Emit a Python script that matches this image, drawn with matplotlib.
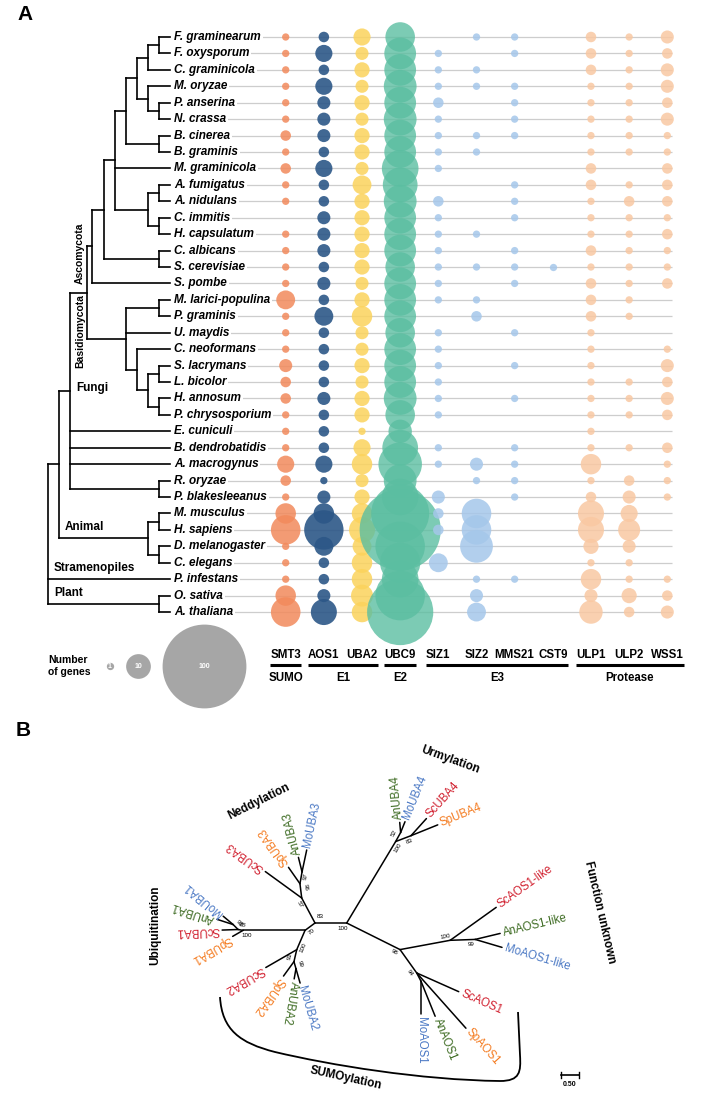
import numpy as np
import matplotlib.pyplot as plt
from matplotlib.path import Path
from matplotlib.patches import PathPatch

plt.rcParams['font.family'] = ['Liberation Sans', 'DejaVu Sans']

# ---------------- Panel A data ----------------
species = ["F. graminearum", "F. oxysporum", "C. graminicola", "M. oryzae", "P. anserina",
           "N. crassa", "B. cinerea", "B. graminis", "M. graminicola", "A. fumigatus",
           "A. nidulans", "C. immitis", "H. capsulatum", "C. albicans", "S. cerevisiae",
           "S. pombe", "M. larici-populina", "P. graminis", "U. maydis", "C. neoformans",
           "S. lacrymans", "L. bicolor", "H. annosum", "P. chrysosporium", "E. cuniculi",
           "B. dendrobatidis", "A. macrogynus", "R. oryzae", "P. blakesleeanus", "M. musculus",
           "H. sapiens", "D. melanogaster", "C. elegans", "P. infestans", "O. sativa",
           "A. thaliana"]

genes = ["SMT3", "AOS1", "UBA2", "UBC9", "SIZ1", "SIZ2", "MMS21", "CST9", "ULP1", "ULP2", "WSS1"]

# number of genes per species (same order as species)
smt3 = [1, 1, 1, 1, 1, 1, 2, 1, 2, 1, 1, 0, 1, 1, 1, 1, 6, 1, 1, 1,
        3, 2, 2, 1, 1, 1, 5, 2, 1, 7, 14, 1, 1, 1, 7, 14]
aos1 = [2, 5, 2, 5, 3, 3, 3, 2, 5, 2, 2, 3, 3, 3, 2, 3, 2, 6, 2, 2,
        2, 2, 3, 2, 2, 2, 5, 1, 3, 7, 24, 6, 2, 2, 3, 11]
uba2 = [5, 3, 4, 3, 4, 3, 4, 4, 3, 6, 4, 4, 4, 4, 4, 3, 4, 7, 3, 3,
        4, 3, 4, 4, 1, 5, 7, 3, 4, 7, 11, 6, 7, 7, 8, 7]
ubc9 = [14, 16, 16, 17, 16, 17, 16, 16, 21, 19, 17, 16, 16, 16, 14, 16, 16, 16, 14, 16,
        16, 16, 17, 14, 9, 20, 29, 17, 21, 50, 94, 37, 25, 21, 37, 64]
siz1 = [0, 1, 1, 1, 2, 1, 1, 1, 1, 0, 2, 1, 1, 1, 1, 1, 1, 0, 1, 1,
        1, 1, 1, 1, 0, 1, 1, 0, 3, 2, 2, 0, 6, 0, 0, 0]
siz2 = [1, 0, 1, 1, 0, 0, 1, 1, 0, 0, 0, 0, 1, 0, 1, 0, 1, 2, 0, 0,
        0, 0, 0, 0, 0, 0, 3, 1, 0, 14, 14, 17, 0, 1, 3, 6]
mms21 = [1, 1, 0, 1, 1, 1, 1, 0, 0, 1, 1, 1, 0, 1, 1, 1, 0, 0, 1, 0,
         1, 0, 1, 0, 0, 1, 1, 1, 1, 0, 0, 0, 0, 1, 0, 0]
cst9 = [0, 0, 0, 0, 0, 0, 0, 0, 0, 0, 0, 0, 0, 0, 1, 0, 0, 0, 0, 0,
        0, 0, 0, 0, 0, 0, 0, 0, 0, 0, 0, 0, 0, 0, 0, 0]
ulp1 = [2, 2, 2, 1, 1, 1, 1, 1, 2, 2, 1, 1, 1, 2, 1, 2, 2, 2, 1, 1,
        1, 1, 1, 1, 1, 1, 7, 1, 2, 11, 11, 4, 1, 7, 3, 9]
ulp2 = [1, 1, 1, 1, 1, 1, 1, 1, 0, 1, 2, 1, 1, 1, 1, 1, 1, 1, 0, 0,
        0, 1, 1, 1, 0, 1, 0, 2, 3, 5, 8, 3, 1, 1, 4, 2]
wss1 = [3, 2, 3, 3, 2, 3, 1, 1, 2, 2, 2, 1, 2, 1, 1, 2, 0, 0, 0, 1,
        3, 2, 3, 2, 0, 2, 1, 1, 1, 0, 0, 0, 0, 1, 2, 3]

counts = {"SMT3": smt3, "AOS1": aos1, "UBA2": uba2, "UBC9": ubc9, "SIZ1": siz1,
          "SIZ2": siz2, "MMS21": mms21, "CST9": cst9, "ULP1": ulp1, "ULP2": ulp2,
          "WSS1": wss1}

gene_groups = [("SUMO", ["SMT3"]), ("E1", ["AOS1", "UBA2"]), ("E2", ["UBC9"]),
               ("E3", ["SIZ1", "SIZ2", "MMS21", "CST9"]),
               ("Protease", ["ULP1", "ULP2", "WSS1"])]

legend_counts = [1, 10, 100]

# species tree: (node depth, [children]); leaves are species names
species_tree = (48, [
    (59, [
        (70, [
            (87, [
                (92, [
                    (104, [
                        (115, [
                            (126, [
                                (137, [
                                    (148, [(159, ["F. graminearum", "F. oxysporum"]), "C. graminicola"]),
                                    (148, ["M. oryzae", (159, ["P. anserina", "N. crassa"])]),
                                ]),
                                (159, ["B. cinerea", "B. graminis"]),
                            ]),
                            "M. graminicola",
                            (148, [(159, ["A. fumigatus", "A. nidulans"]),
                                   (159, ["C. immitis", "H. capsulatum"])]),
                        ]),
                        (159, ["C. albicans", "S. cerevisiae"]),
                    ]),
                    "S. pombe",
                ]),
                (126, [
                    (159, ["M. larici-populina", "P. graminis"]),
                    "U. maydis",
                    (137, ["C. neoformans",
                           (148, [(159, ["S. lacrymans", "L. bicolor"]),
                                  (159, ["H. annosum", "P. chrysosporium"])])]),
                ]),
            ]),
            "E. cuniculi", "B. dendrobatidis", "A. macrogynus",
            (159, ["R. oryzae", "P. blakesleeanus"]),
        ]),
        (148, [(159, ["M. musculus", "H. sapiens"]), (159, ["D. melanogaster", "C. elegans"])]),
    ]),
    "P. infestans",
    (159, ["O. sativa", "A. thaliana"]),
])

# ---------------- Panel B data ----------------
# unrooted E1 tree: (parent, child, branch length in px, direction in degrees)
edges_b = [
    ("n83", "n70", 12.4, 216.5), ("n83", "n57", 28.3, 118), ("n83", "c2", 31.7, 0),
    ("c2", "nu", 95, 59), ("c2", "n98", 59.6, -26.5),
    ("n98", "nfu", 51, 10.5), ("n98", "n94", 28.7, -54.5),
    ("nfu", "ScAOS1-like", 56.6, 35.6), ("nfu", "n99", 25, 2),
    ("n99", "AnAOS1-like", 25.7, 13.5), ("n99", "MoAOS1-like", 28, -16.5),
    ("n94", "ScAOS1", 46, -24), ("n94", "SpAOS1", 74, -48.3), ("n94", "nma", 9.4, -62.6),
    ("nma", "MoAOS1", 33, -90), ("nma", "AnAOS1", 37.7, -68),
    ("n70", "nub", 62, 180), ("nub", "SpUBA1", 12, 210), ("nub", "n88", 5, 170),
    ("n88", "ScUBA1", 16, 182), ("n88", "n91", 7, 135),
    ("n91", "MoUBA1", 13, 140), ("n91", "AnUBA1", 17, 162),
    ("n70", "nb100", 21, 246.7), ("nb100", "ScUBA2", 35.7, 210), ("nb100", "nb91", 12.3, 257),
    ("nb91", "SpUBA2", 17.8, 234), ("nb91", "nb99", 7.3, 286),
    ("nb99", "AnUBA2", 10.4, 260), ("nb99", "MoUBA2", 15, 286),
    ("n57", "ScUBA3", 45, 144), ("n57", "n96", 14.4, 97),
    ("n96", "SpUBA3", 20, 125), ("n96", "n97", 12, 80),
    ("n97", "AnUBA3", 15, 104), ("n97", "MoUBA3", 22.4, 78),
    ("nu", "n52", 10.3, 61), ("n52", "AnUBA4", 10.2, 95), ("n52", "MoUBA4", 11.7, 68),
    ("nu", "n83u", 16.5, 21), ("n83u", "ScUBA4", 23, 48), ("n83u", "SpUBA4", 28.8, 22),
]

# bootstrap support: node -> (value, side of branch)
support_b = {"c2": (100, -1), "nu": (100, -1), "n98": (98, -1), "nfu": (100, 1),
             "n99": (99, -1), "n94": (94, -1), "n70": (70, 1), "nub": (100, 1),
             "n88": (88, -1), "n91": (91, -1), "nb100": (100, 1), "nb91": (91, -1),
             "nb99": (99, 1), "n57": (57, 1), "n96": (96, -1), "n97": (97, -1),
             "n52": (52, 1), "n83u": (83, -1)}

prefix_colors = {"Sc": "#d1202f", "Sp": "#f47b20", "An": "#3d6b22", "Mo": "#4a78c4"}

# ---------------- figure ----------------
fig = plt.figure(figsize=(7.09, 10.93), dpi=100)
ax = fig.add_axes([0, 0, 1, 1])
ax.set_xlim(0, 709)
ax.set_ylim(1093, 0)
ax.axis('off')

row_y = 37 + 16.43 * np.arange(len(species))
col_x = 285.7 + 38.16 * np.arange(len(genes))
tip_x = 170
label_x = 174


def bubble_size(n):
    d = 7.3 * np.asarray(n, dtype=float) ** 0.53   # diameter in px
    return (d * 0.72) ** 2


gene_colors = {"SMT3": ("#f28a5c", 0.85), "AOS1": ("#2c5787", 0.9), "UBA2": ("#fbd35c", 0.85),
               "UBC9": ("#5bbea1", 0.8)}
for g in ["SIZ1", "SIZ2", "MMS21", "CST9"]:
    gene_colors[g] = ("#a5c7ea", 0.85)
for g in ["ULP1", "ULP2", "WSS1"]:
    gene_colors[g] = ("#f9c8a2", 0.85)

# row guide lines and species names
ax.hlines(row_y, label_x, 672, color='#cdcdcd', lw=0.9, zorder=1)
for name, y in zip(species, row_y):
    ax.text(label_x, y, name, fontsize=8.5, fontweight='bold', style='italic',
            ha='left', va='center', zorder=2,
            bbox=dict(boxstyle='square,pad=0.15', fc='white', ec='none'))

# bubbles
for j, g in enumerate(genes):
    n = np.array(counts[g])
    m = n > 0
    c, a = gene_colors[g]
    ax.scatter(np.full(m.sum(), col_x[j]), row_y[m], s=bubble_size(n[m]), color=c,
               alpha=a, linewidths=0, zorder=3 + j)


# species tree
def draw_clade(node):
    if isinstance(node, str):
        return tip_x, row_y[species.index(node)]
    depth, children = node
    pts = [draw_clade(ch) for ch in children]
    ys = [p[1] for p in pts]
    ax.plot([depth, depth], [min(ys), max(ys)], color='black', lw=1.2,
            solid_capstyle='projecting')
    for cx, cy in pts:
        ax.plot([depth, cx], [cy, cy], color='black', lw=1.2, solid_capstyle='projecting')
    return depth, (min(ys) + max(ys)) / 2


draw_clade(species_tree)

lab = dict(fontsize=8.5, fontweight='bold', va='center')
ax.text(80, 253, "Ascomycota", rotation=90, ha='center', fontsize=7.5,
        fontweight='bold', va='center')
ax.text(80, 331, "Basidiomycota", rotation=90, ha='center', fontsize=7.5,
        fontweight='bold', va='center')
ax.text(76, 388, "Fungi", ha='left', **lab)
ax.text(65, 527, "Animal", ha='left', **lab)
ax.text(54, 568, "Stramenopiles", ha='left', **lab)
ax.text(54, 593, "Plant", ha='left', **lab)

# column headers and groups
head = {}
for j, g in enumerate(genes):
    head[g] = ax.text(col_x[j], 655, g, ha='center', va='center', fontsize=8.3,
                      fontweight='bold')
fig.canvas.draw()
rend = fig.canvas.get_renderer()
inv = ax.transData.inverted()
for grp, members in gene_groups:
    boxes = [head[g].get_window_extent(rend) for g in members]
    x0 = inv.transform((min(b.x0 for b in boxes), 0))[0]
    x1 = inv.transform((max(b.x1 for b in boxes), 0))[0]
    ax.plot([x0, x1], [665, 665], color='black', lw=2.2, solid_capstyle='butt')
    ax.text((x0 + x1) / 2, 678, grp, ha='center', va='center', fontsize=8.3,
            fontweight='bold')

# size legend
ax.text(48, 666, "Number\nof genes", ha='left', va='center', fontsize=7.5,
        fontweight='bold', linespacing=1.15)
for lx, n in zip([110, 138, 204], legend_counts):
    ax.scatter([lx], [666], s=bubble_size([n]), color='#a6a6a6', linewidths=0, zorder=3)
    ax.text(lx, 666, str(n), ha='center', va='center', color='white', fontsize=5,
            fontweight='bold', zorder=4)

ax.text(25, 14, "A", ha='center', va='center', fontsize=15, fontweight='bold')
ax.text(23, 730, "B", ha='center', va='center', fontsize=15, fontweight='bold')

# ---------------- Panel B ----------------
pos = {"n83": (315.0, 923.0)}
inc_angle = {}
for parent, child, length, ang in edges_b:
    px, py = pos[parent]
    r = np.deg2rad(ang)
    pos[child] = (px + length * np.cos(r), py - length * np.sin(r))
    inc_angle[child] = ang
    ax.plot([px, pos[child][0]], [py, pos[child][1]], color='black', lw=1.1,
            solid_capstyle='round')

internal = {p for p, _, _, _ in edges_b}
for parent, child, length, ang in edges_b:
    if child in internal:
        continue
    r = np.deg2rad(ang)
    x, y = pos[child]
    ax.text(x + 3 * np.cos(r), y - 3 * np.sin(r), child, rotation=ang,
            rotation_mode='anchor', ha='left', va='center', fontsize=8.3,
            color=prefix_colors[child[:2]])

for node, (val, side) in support_b.items():
    ang = inc_angle[node]
    r = np.deg2rad(ang)
    x, y = pos[node]
    dx, dy = np.cos(r), -np.sin(r)
    px, py = -dy * side, dx * side  # perpendicular (screen orientation)
    bx = x - 4 * dx - 5 * px
    by = y - 4 * dy - 5 * py
    rot = ((ang + 90) % 180) - 90
    ax.text(bx, by, str(val), rotation=rot, rotation_mode='anchor', ha='center',
            va='center', fontsize=4.5)
ax.text(320, 916, "83", ha='center', va='center', fontsize=4.5)

clade_b = dict(fontsize=8.5, fontweight='bold', ha='center', va='center')
ax.text(450, 760, "Urmylation", rotation=-20, **clade_b)
ax.text(259, 802, "Neddylation", rotation=26.5, **clade_b)
ax.text(155, 925, "Ubiquitination", rotation=90, **clade_b)
ax.text(600, 912, "Function unknown", rotation=-77, **clade_b)
ax.text(346, 1078, "SUMOylation", rotation=-12.5, **clade_b)

# bracket around the SUMOylation clade
arc = Path([(220, 997), (222, 1030), (240, 1043), (275, 1052),
            (330, 1065), (420, 1080), (500, 1081),
            (520, 1081), (521, 1072), (520, 1055), (518, 1012)],
           [Path.MOVETO, Path.CURVE4, Path.CURVE4, Path.CURVE4,
            Path.CURVE4, Path.CURVE4, Path.CURVE4,
            Path.CURVE4, Path.CURVE4, Path.CURVE4, Path.LINETO])
ax.add_patch(PathPatch(arc, fc='none', ec='black', lw=1.3))

# scale bar
ax.plot([561, 579], [1075, 1075], color='black', lw=1.2)
ax.plot([561, 561], [1072, 1078], color='black', lw=1.0)
ax.plot([579, 579], [1072, 1078], color='black', lw=1.0)
ax.text(570, 1084, "0.50", ha='center', va='center', fontsize=5, fontweight='bold')

fig.savefig("out.png", dpi=100)
